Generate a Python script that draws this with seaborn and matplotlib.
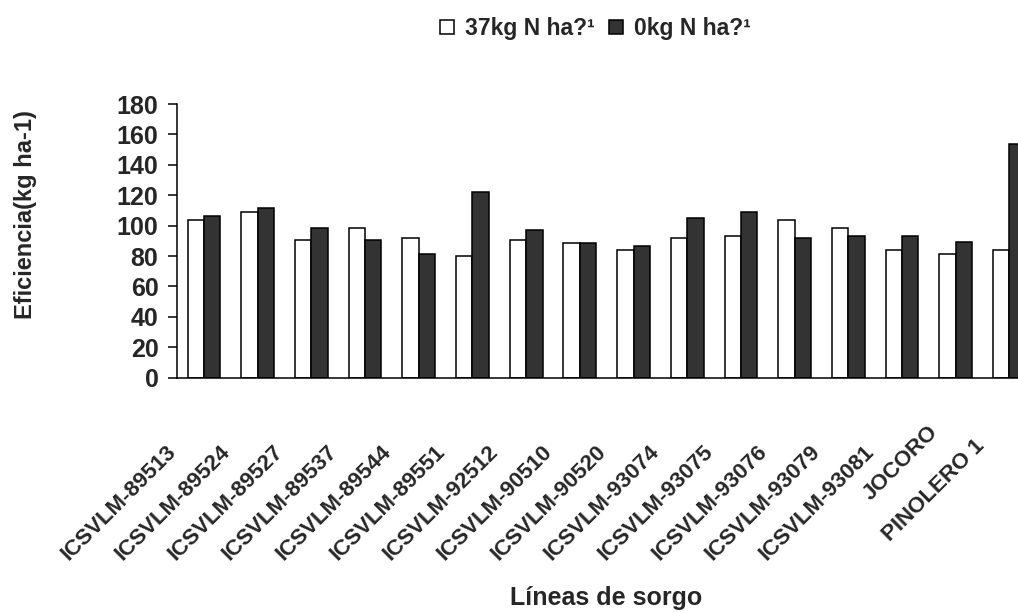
import pandas as pd
import matplotlib
matplotlib.use("Agg")
import matplotlib.pyplot as plt
from matplotlib.patches import Patch
from matplotlib.transforms import ScaledTranslation
import seaborn as sns
import numpy as np

# Data
lineas = ['ICSVLM-89513', 'ICSVLM-89524', 'ICSVLM-89527', 'ICSVLM-89537',
          'ICSVLM-89544', 'ICSVLM-89551', 'ICSVLM-92512', 'ICSVLM-90510',
          'ICSVLM-90520', 'ICSVLM-93074', 'ICSVLM-93075', 'ICSVLM-93076',
          'ICSVLM-93079', 'ICSVLM-93081', 'JOCORO', 'PINOLERO 1']
con_n = [103.5, 108.7, 90.3, 98.4, 91.6, 79.8, 90.3, 88.8,
         83.7, 91.6, 93.2, 103.5, 98.2, 83.7, 81.3, 83.7]
sin_n = [106.3, 111.6, 98.4, 90.3, 81.3, 121.9, 96.9, 88.8,
         86.6, 105.0, 108.7, 91.6, 93.2, 93.2, 89.0, 153.5]
series = ['37kg N ha?\u00b9', '0kg N ha?\u00b9']
yticks = list(range(0, 181, 20))

df = pd.DataFrame({
    'linea': lineas * 2,
    'valor': con_n + sin_n,
    'serie': [series[0]] * len(lineas) + [series[1]] * len(lineas),
})

sns.set_style('white')
plt.rcParams['font.family'] = ['Liberation Sans', 'DejaVu Sans']
plt.rcParams['font.weight'] = 'bold'

fig = plt.figure(figsize=(10.18, 6.12), dpi=100)
# plot area runs past the right edge, as in the reference (last bar is clipped)
ax = fig.add_axes([0.174, 0.383, 0.844, 0.447])

sns.barplot(data=df, x='linea', y='valor', hue='serie', order=lineas,
            hue_order=series, palette=['white', '#333333'],
            edgecolor='black', linewidth=1.1, width=0.61, ax=ax, legend=False)

ax.set_ylim(0, 180)
ax.set_xlim(-0.5, len(lineas) - 0.5)
ax.set_yticks(yticks)
ax.set_yticklabels([str(v) for v in yticks], fontsize=18, fontweight='bold')

# labels at category centres, tick marks between categories
ax.set_xticks(np.arange(len(lineas)))
ax.set_xticklabels(lineas, rotation=45, ha='right', va='center',
                   rotation_mode='anchor', fontsize=16, fontweight='bold')
ax.set_xticks(np.arange(len(lineas) + 1) - 0.5, minor=True)
ax.tick_params(axis='x', which='major', length=0, pad=51.5)
ax.tick_params(axis='x', which='minor', length=5.5, width=1.1, direction='out', color='black')
ax.tick_params(axis='y', length=6.5, width=1.1, direction='out', color='black', pad=7)
ax.tick_params(left=True, bottom=True)

for s in ['top', 'right']:
    ax.spines[s].set_visible(False)
for s in ['left', 'bottom']:
    ax.spines[s].set_color('black')
    ax.spines[s].set_linewidth(1.1)

ax.set_xlabel('')
ax.set_ylabel('')
fig.text(0.595, 0.012, 'Líneas de sorgo', ha='center', va='baseline',
         fontsize=18, fontweight='bold')
fig.text(0.025, 0.650, 'Eficiencia(kg ha-1)', ha='center', va='center',
         rotation=90, fontsize=17, fontweight='bold')

handles = [Patch(facecolor='white', edgecolor='black', linewidth=1.1),
           Patch(facecolor='#333333', edgecolor='black', linewidth=1.1)]
fig.legend(handles, series, loc='center', bbox_to_anchor=(0.585, 0.953), ncol=2,
           frameon=False, handlelength=0.6, handleheight=0.6,
           handletextpad=0.5, columnspacing=0.6, prop={'weight': 'bold', 'size': 16.5})

# shorter labels sit higher and slightly further right, like the original
fig.canvas.draw()
labels = ax.get_xticklabels()
widths = [lb.get_window_extent().width for lb in labels]
wref = max(widths)
for lb, w in zip(labels, widths):
    d = (wref - w) / 0.707
    off = ScaledTranslation((-31 + 0.17 * d) / 100, (0.36 * d) / 100, fig.dpi_scale_trans)
    lb.set_transform(lb.get_transform() + off)

fig.savefig('out.png', dpi=100)
